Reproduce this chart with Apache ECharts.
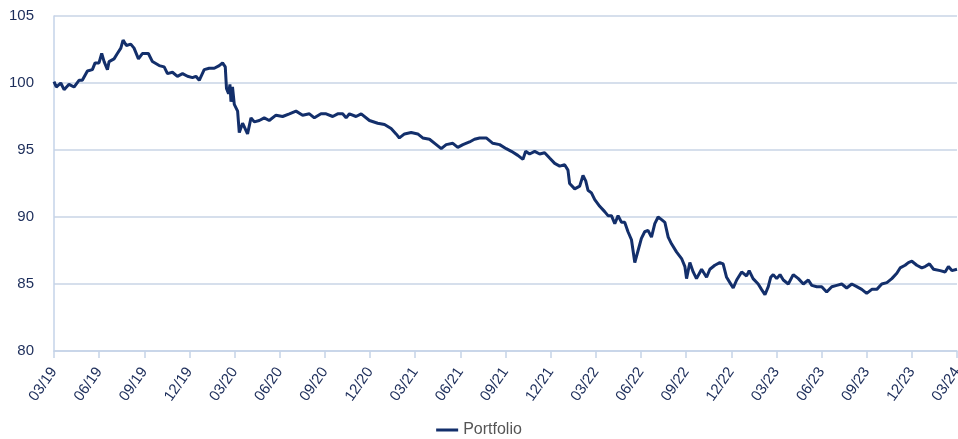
<!DOCTYPE html>
<html>
<head>
<meta charset="utf-8">
<title>Portfolio</title>
<script src="https://cdn.jsdelivr.net/npm/echarts@6/dist/echarts.min.js"></script>
<style>
  html, body { margin: 0; padding: 0; background: #fff; }
  #chart { width: 958px; height: 439px; }
</style>
</head>
<body>
<div id="chart"></div>
<script>
// x = months since 03/19
var months = [
  0.00, 0.15, 0.45, 0.67, 1.00, 1.33, 1.66, 1.88, 2.22, 2.55, 2.73, 2.99, 3.17, 3.33, 3.55, 3.66,
  3.99, 4.21, 4.44, 4.59, 4.81, 5.10, 5.32, 5.61, 5.87, 6.27, 6.54, 6.99, 7.32, 7.54, 7.87, 8.20,
  8.54, 8.87, 9.20, 9.43, 9.65, 9.98, 10.31, 10.65, 10.98, 11.20, 11.38, 11.46, 11.60, 11.69, 11.76,
  11.86, 11.98, 12.20, 12.31, 12.53, 12.64, 12.86, 13.09, 13.31, 13.64, 13.97, 14.30, 14.75, 15.19,
  15.64, 16.08, 16.52, 16.97, 17.30, 17.74, 18.08, 18.52, 18.85, 19.18, 19.41, 19.63, 20.07, 20.41,
  20.96, 21.51, 21.96, 22.40, 22.73, 22.95, 23.29, 23.73, 24.17, 24.50, 24.95, 25.40, 25.73, 26.06,
  26.50, 26.83, 27.17, 27.61, 27.94, 28.28, 28.72, 29.16, 29.61, 30.05, 30.39, 30.82, 31.16, 31.34,
  31.60, 31.94, 32.27, 32.60, 32.93, 33.27, 33.60, 33.93, 34.15, 34.26, 34.60, 34.93, 35.15, 35.33,
  35.48, 35.71, 35.93, 36.26, 36.59, 36.81, 37.04, 37.26, 37.48, 37.71, 37.92, 38.14, 38.37, 38.59,
  38.81, 39.03, 39.25, 39.47, 39.70, 39.92, 40.14, 40.37, 40.59, 40.81, 41.03, 41.36, 41.70, 41.92,
  42.03, 42.25, 42.47, 42.69, 43.03, 43.36, 43.58, 43.91, 44.24, 44.46, 44.69, 44.91, 45.13, 45.36,
  45.69, 45.80, 46.02, 46.19, 46.45, 46.79, 47.01, 47.24, 47.46, 47.62, 47.79, 48.02, 48.24, 48.46,
  48.79, 49.12, 49.46, 49.79, 50.12, 50.35, 50.68, 51.01, 51.34, 51.68, 52.01, 52.34, 52.67, 53.01,
  53.34, 53.67, 54.00, 54.34, 54.67, 55.00, 55.34, 55.67, 56.00, 56.22, 56.55, 56.77, 57.00, 57.33,
  57.66, 57.88, 58.17, 58.44, 58.88, 59.21, 59.43, 59.66, 60.00
];
var portfolio = [
  100.1, 99.7, 100.0, 99.5, 99.9, 99.7, 100.2, 100.2, 100.9, 101.0, 101.5, 101.5, 102.2, 101.6, 101.0, 101.6,
  101.8, 102.2, 102.6, 103.2, 102.8, 102.9, 102.6, 101.8, 102.2, 102.2, 101.6, 101.3, 101.2, 100.7, 100.8, 100.5,
  100.7, 100.5, 100.4, 100.5, 100.2, 101.0, 101.1, 101.1, 101.3, 101.5, 101.2, 99.6, 99.2, 99.9, 98.6,
  99.7, 98.4, 97.9, 96.3, 97.0, 96.9, 96.2, 97.4, 97.1, 97.2, 97.4, 97.2, 97.6, 97.5,
  97.7, 97.9, 97.6, 97.7, 97.4, 97.7, 97.7, 97.5, 97.7, 97.7, 97.4, 97.7, 97.5, 97.7,
  97.2, 97.0, 96.9, 96.6, 96.2, 95.9, 96.2, 96.3, 96.2, 95.9, 95.8, 95.4, 95.1, 95.4,
  95.5, 95.2, 95.4, 95.6, 95.8, 95.9, 95.9, 95.5, 95.4, 95.1, 94.9, 94.6, 94.3, 94.9,
  94.7, 94.9, 94.7, 94.8, 94.4, 94.0, 93.8, 93.9, 93.5, 92.5, 92.1, 92.3, 93.1, 92.7,
  92.0, 91.8, 91.3, 90.8, 90.4, 90.1, 90.1, 89.5, 90.1, 89.6, 89.6, 88.9, 88.3, 86.6,
  87.5, 88.4, 88.9, 89.0, 88.5, 89.5, 90.0, 89.8, 89.6, 88.5, 88.0, 87.4, 86.9, 86.3,
  85.4, 86.6, 85.9, 85.4, 86.1, 85.5, 86.1, 86.4, 86.6, 86.5, 85.5, 85.1, 84.7, 85.3,
  85.9, 86.0, 85.6, 86.0, 85.4, 85.0, 84.6, 84.2, 84.8, 85.5, 85.7, 85.4, 85.7, 85.3,
  85.0, 85.7, 85.4, 85.0, 85.3, 84.9, 84.8, 84.8, 84.4, 84.8, 84.9, 85.0, 84.7, 85.0,
  84.8, 84.6, 84.3, 84.6, 84.6, 85.0, 85.1, 85.4, 85.8, 86.2, 86.4, 86.6, 86.7, 86.4,
  86.2, 86.3, 86.5, 86.1, 86.0, 85.9, 86.3, 86.0, 86.1
];
var tickLabels = [
  '03/19', '06/19', '09/19', '12/19', '03/20', '06/20', '09/20', '12/20', '03/21', '06/21', '09/21',
  '12/21', '03/22', '06/22', '09/22', '12/22', '03/23', '06/23', '09/23', '12/23', '03/24'
];

var chart = echarts.init(document.getElementById('chart'));
var lineData = months.map(function (m, i) { return [m, portfolio[i]]; });

var option = {
  textStyle: { fontFamily: 'Liberation Sans, Arial, sans-serif' },
  grid: { left: 54, right: 1, top: 16, bottom: 88, containLabel: false, outerBoundsMode: 'none' },
  legend: {
    top: 417,
    left: 'center',
    icon: 'rect',
    itemWidth: 22,
    itemHeight: 3,
    itemGap: 8,
    textStyle: { color: '#555', fontSize: 16 },
    data: ['Portfolio']
  },
  xAxis: {
    type: 'value',
    min: 0,
    max: 60,
    interval: 3,
    axisLine: { show: true, lineStyle: { color: '#c5d3e8', width: 1.5 } },
    axisTick: { show: true, length: 7, lineStyle: { color: '#c5d3e8', width: 1.5 } },
    splitLine: { show: false },
    axisLabel: {
      rotate: 55,
      margin: 18,
      color: '#1c2d5a',
      fontSize: 15,
      showMinLabel: true,
      showMaxLabel: true,
      hideOverlap: false,
      formatter: function (v) { return tickLabels[Math.round(v / 3)] || ''; }
    }
  },
  yAxis: {
    type: 'value',
    min: 80,
    max: 105,
    interval: 5,
    axisLine: { show: true, lineStyle: { color: '#c5d3e8', width: 1.5 } },
    axisTick: { show: false },
    splitLine: { show: true, lineStyle: { color: '#c8d5e6', width: 1.5 } },
    axisLabel: { color: '#1c2d5a', fontSize: 15, margin: 20 }
  },
  series: [{
    name: 'Portfolio',
    type: 'line',
    showSymbol: false,
    color: '#132f6b',
    lineStyle: { width: 3, color: '#132f6b' },
    data: lineData
  }]
};
chart.setOption(option);
</script>
</body>
</html>
